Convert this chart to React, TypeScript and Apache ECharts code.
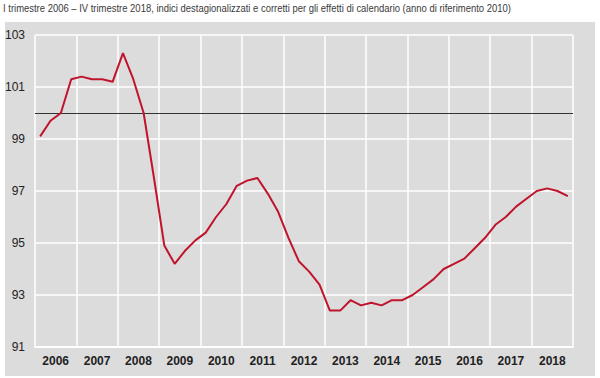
import React, { useEffect, useRef } from "react";
import * as echarts from "echarts";

const TITLE =
  "I trimestre 2006 – IV trimestre 2018, indici destagionalizzati e corretti per gli effetti di calendario (anno di riferimento 2010)";

const years = ["2006", "2007", "2008", "2009", "2010", "2011", "2012", "2013", "2014", "2015", "2016", "2017", "2018"];
const quarters = ["I", "II", "III", "IV"];

const values = [
  99.1, 99.7, 100.0, 101.3,
  101.4, 101.3, 101.3, 101.2,
  102.3, 101.3, 100.0, 97.5,
  94.9, 94.2, 94.7, 95.1,
  95.4, 96.0, 96.5, 97.2,
  97.4, 97.5, 96.9, 96.2,
  95.2, 94.3, 93.9, 93.4,
  92.4, 92.4, 92.8, 92.6,
  92.7, 92.6, 92.8, 92.8,
  93.0, 93.3, 93.6, 94.0,
  94.2, 94.4, 94.8, 95.2,
  95.7, 96.0, 96.4, 96.7,
  97.0, 97.1, 97.0, 96.8,
];

const referenceLevel = 100;

export default function App() {
  const ref = useRef<HTMLDivElement>(null);

  useEffect(() => {
    if (!ref.current) return;
    const chart = echarts.init(ref.current, null, { renderer: "svg" });
    const quarterCats: string[] = [];
    years.forEach((y) => quarters.forEach((q) => quarterCats.push(q + " " + y)));
    const font = "'Liberation Sans Narrow', 'Arial Narrow', 'Liberation Sans', sans-serif";

    chart.setOption({
      animation: false,
      backgroundColor: "#ffffff",
      graphic: [
        {
          type: "rect",
          shape: { x: 5, y: 22, width: 590, height: 354 },
          style: { fill: "#dcdcdc" },
          z: -10,
          silent: true,
        },
        {
          type: "text",
          x: 3,
          y: 3,
          scaleX: 0.86,
          style: { text: TITLE, fill: "#3a3a3a", font: "11px " + font },
        },
      ],
      grid: { left: 35, right: 27, top: 35, bottom: 31, containLabel: false },
      xAxis: [
        {
          type: "category",
          data: quarterCats,
          boundaryGap: true,
          show: false,
        },
        {
          type: "category",
          data: years,
          boundaryGap: true,
          position: "bottom",
          axisLine: { show: true, lineStyle: { color: "#ffffff", width: 2 } },
          axisTick: { show: false },
          axisLabel: {
            color: "#222222",
            fontFamily: font,
            fontWeight: "bold",
            fontSize: 12,
            margin: 8,
          },
          splitLine: { show: true, lineStyle: { color: "#ffffff", width: 1.5 } },
        },
      ],
      yAxis: {
        type: "value",
        min: 91,
        max: 103,
        interval: 2,
        axisLine: { show: false },
        axisTick: { show: false },
        axisLabel: { color: "#222222", fontFamily: font, fontSize: 12, margin: 10 },
        splitLine: { show: true, lineStyle: { color: "#ffffff", width: 1.5 } },
      },
      series: [
        {
          type: "line",
          xAxisIndex: 0,
          data: values,
          symbol: "none",
          lineStyle: { color: "#c0142c", width: 2 },
          markLine: {
            silent: true,
            symbol: "none",
            label: { show: false },
            lineStyle: { color: "#333333", width: 1, type: "solid" },
            data: [{ yAxis: referenceLevel }],
            z: 1,
          },
          z: 3,
        },
      ],
    });
    return () => chart.dispose();
  }, []);

  return (
    <div
      ref={ref}
      style={{ position: "fixed", left: 0, top: 0, width: 600, height: 378 }}
    />
  );
}
